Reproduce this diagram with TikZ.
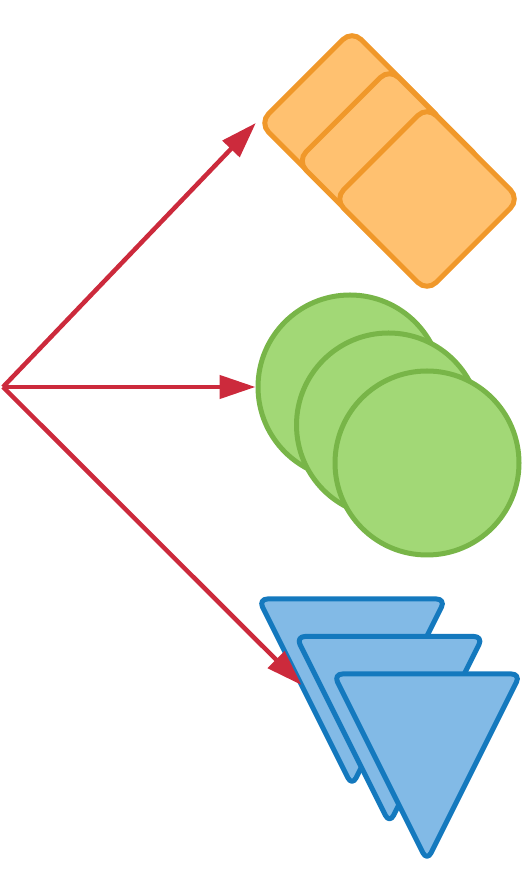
\documentclass[tikz,border=0pt]{standalone}
\usepackage{tikz}
\usetikzlibrary{arrows.meta}
\usetikzlibrary{calc}
\definecolor{arrowred}{RGB}{204,42,60}
\definecolor{cardline}{RGB}{240,152,42}
\definecolor{cardfill}{RGB}{255,193,112}
\definecolor{discline}{RGB}{120,181,72}
\definecolor{discfill}{RGB}{162,216,118}
\definecolor{wedgeline}{RGB}{20,121,190}
\definecolor{wedgefill}{RGB}{130,186,230}
\tikzset{
    flow arrow/.style={
        color = arrowred,
        line width=4.5pt,
        -{Triangle[length=36pt, width=23pt]},
    },
    card/.style={
        draw=cardline,
        fill=cardfill,
        line width=5pt,
        rectangle,
        rounded corners=13pt,
        minimum size=131pt,
        inner sep=0,
        rotate=45,
    },
    disc/.style={
        draw=discline,
        fill=discfill,
        line width=5pt,
        circle,
        minimum size=184pt,
        inner sep=0,
    },
    wedge/.style={
        draw=wedgeline,
        fill=wedgefill,
        line width=5pt,
        rounded corners=9pt,
        line join=round,
    },
}
\begin{document}
\begin{tikzpicture}[x=1pt, y=1pt]

    \useasboundingbox (0, 0) rectangle (531, 886);

    \coordinate (org) at (3, 499);
    \coordinate (cardbase) at (352, 763);
    \coordinate (discbase) at (350, 499);

    % rotated cards
    \foreach \i in {0,1,2}
    {
        \node[card] (sq\i) at ($(cardbase)+\i*(37.5, -38)$) {};
    }

    % discs
    \foreach \i in {0,1,2}
    {
        \node[disc] (ci\i) at ($(discbase)+\i*(38.5, -38)$) {};
    }

    % wedges
    \foreach \i in {0,1,2}
    {
        \coordinate (tl\i) at ($(258.5, 287)+\i*(37.5, -37.5)$);
        \coordinate (tr\i) at ($(445.5, 287)+\i*(37.5, -37.5)$);
        \coordinate (tb\i) at ($(352, 100)+\i*(37.5, -37.5)$);
        \draw[wedge] (tl\i) -- (tr\i) -- (tb\i) -- cycle;
    }

    \coordinate (hit) at ($(tl0)!0.46!(tb0)$);

    \draw[flow arrow] (org) -- (sq0.north west);
    \draw[flow arrow] (org) -- (ci0.west);
    \draw[flow arrow] (org) -- (hit);

\end{tikzpicture}
\end{document}
